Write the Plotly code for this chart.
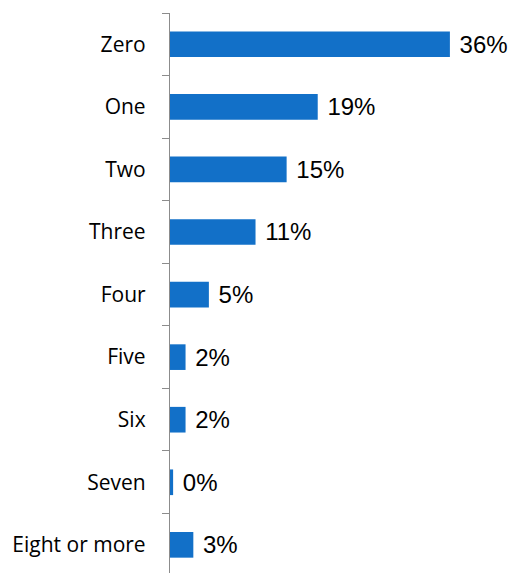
import plotly.graph_objects as go

# Share of respondents by count
categories = ["Zero", "One", "Two", "Three", "Four", "Five", "Six", "Seven", "Eight or more"]
shares = [36, 19, 15, 11, 5, 2, 2, 0.4, 3]

BAR_COLOR = "#1270C8"
AXIS_COLOR = "#8C8C8C"
VALUE_FONT = dict(family="Liberation Sans", size=24, color="#000000")

fig = go.Figure(
    go.Bar(
        x=shares,
        y=categories,
        orientation="h",
        width=0.41,
        marker=dict(color=BAR_COLOR, line=dict(width=0)),
        texttemplate=" %{x:.0f}%",
        textposition="outside",
        constraintext="none",
        cliponaxis=False,
        textfont=VALUE_FONT,
        outsidetextfont=VALUE_FONT,
        hoverinfo="skip",
    )
)

fig.update_layout(
    width=514,
    height=573,
    margin=dict(l=170, r=33, t=13, b=0, autoexpand=False),
    paper_bgcolor="white",
    plot_bgcolor="white",
    showlegend=False,
    xaxis=dict(
        range=[0, 40],
        visible=False,
        showgrid=False,
        zeroline=False,
    ),
    yaxis=dict(
        type="category",
        categoryorder="array",
        categoryarray=categories,
        range=[8.45, -0.5],
        showline=True,
        linecolor=AXIS_COLOR,
        linewidth=1.3,
        ticks="outside",
        tickson="boundaries",
        ticklen=7,
        tickcolor=AXIS_COLOR,
        tickwidth=1.3,
        ticklabelstandoff=19,
        showgrid=False,
        zeroline=False,
        tickfont=dict(family="Open Sans", size=21, color="#000000"),
    ),
)

fig.write_html("out.html")
